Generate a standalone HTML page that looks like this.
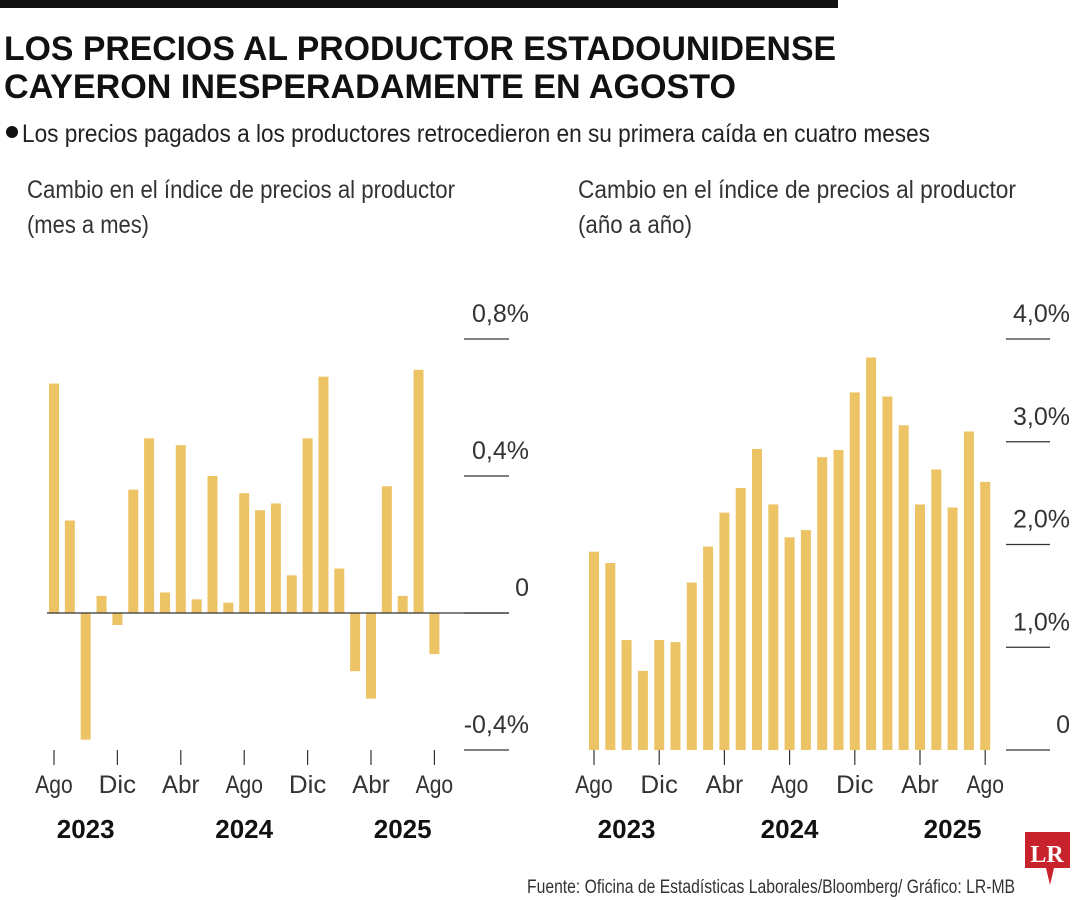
<!DOCTYPE html>
<html><head><meta charset="utf-8"><style>
body{margin:0;background:#fff}
svg{display:block;font-family:"Liberation Sans",sans-serif}
</style></head><body>
<svg width="1080" height="900" viewBox="0 0 1080 900">
<rect x="0" y="0" width="838" height="8" fill="#111"/>
<text x="4" y="60" font-size="34" font-weight="bold" fill="#111" textLength="832" lengthAdjust="spacingAndGlyphs">LOS PRECIOS AL PRODUCTOR ESTADOUNIDENSE</text>
<text x="4" y="98" font-size="34" font-weight="bold" fill="#111" textLength="732" lengthAdjust="spacingAndGlyphs">CAYERON INESPERADAMENTE EN AGOSTO</text>
<circle cx="12" cy="132" r="6" fill="#111"/>
<text x="22" y="142" font-size="25" fill="#222" textLength="908" lengthAdjust="spacingAndGlyphs">Los precios pagados a los productores retrocedieron en su primera caída en cuatro meses</text>
<text x="27" y="198" font-size="25" fill="#333" textLength="428" lengthAdjust="spacingAndGlyphs">Cambio en el índice de precios al productor</text>
<text x="27" y="233" font-size="25" fill="#333" textLength="122" lengthAdjust="spacingAndGlyphs">(mes a mes)</text>
<text x="578" y="198" font-size="25" fill="#333" textLength="438" lengthAdjust="spacingAndGlyphs">Cambio en el índice de precios al productor</text>
<text x="578" y="233" font-size="25" fill="#333" textLength="114" lengthAdjust="spacingAndGlyphs">(año a año)</text>
<g id="left"></g><g id="right"></g>
<text x="1015" y="893" font-size="19" fill="#333" text-anchor="end" textLength="488" lengthAdjust="spacingAndGlyphs">Fuente: Oficina de Estadísticas Laborales/Bloomberg/ Gráfico: LR-MB</text>
<g>
<path d="M1025 832 H1070 V868 H1054 L1050 885 L1046 868 H1025 Z" fill="#c8232c"/>
<text x="1047" y="862" font-size="24" font-weight="bold" fill="#fff" text-anchor="middle" font-family="Liberation Serif,serif">LR</text>
</g>
</svg>
<script>
const momValues=[0.67,0.27,-0.37,0.05,-0.035,0.36,0.51,0.06,0.49,0.04,0.40,0.03,0.35,0.30,0.32,0.11,0.51,0.69,0.13,-0.17,-0.25,0.37,0.05,0.71,-0.12];
const yoyValues=[1.93,1.82,1.07,0.77,1.07,1.05,1.63,1.98,2.31,2.55,2.93,2.39,2.07,2.14,2.85,2.92,3.48,3.82,3.44,3.16,2.39,2.73,2.36,3.10,2.61];
const monthLabels=["Ago","Dic","Abr","Ago","Dic","Abr","Ago"];
const yearLabels=["2023","2024","2025"];
const momTicks=[0.8,0.4,0,-0.4];
const momTickLabels=["0,8%","0,4%","0","-0,4%"];
const yoyTicks=[4,3,2,1,0];
const yoyTickLabels=["4,0%","3,0%","2,0%","1,0%","0"];
const NS="http://www.w3.org/2000/svg";
function mk(p,tag,a){const e=document.createElementNS(NS,tag);for(const k in a)e.setAttribute(k,a[k]);p.appendChild(e);return e;}
function draw(g,vals,cfg){
  const y=v=>cfg.y0-(v-cfg.base)*cfg.scale;
  const x=i=>cfg.x0+i*cfg.step;
  cfg.ticks.forEach((t,i)=>{
    const ln=mk(g,'line',{x1:cfg.tx1,x2:cfg.tx2,y1:y(t),y2:y(t),stroke:'#333','stroke-width':1.2});
    
    
    const tx=mk(g,'text',{x:cfg.tx2+20,y:y(t)-17,'font-size':25,fill:'#333','text-anchor':'end'});
    tx.textContent=cfg.labels[i];
    
    
  });
  vals.forEach((v,i)=>{
    const top=Math.min(y(v),y(cfg.base)),h=Math.abs(y(v)-y(cfg.base));
    const r=mk(g,'rect',{x:x(i)-cfg.bw/2,y:top,width:cfg.bw,height:h,fill:'#ecc465'});
    
    
  });
  if(cfg.zeroLine){const z=mk(g,'line',{x1:cfg.x0-7,x2:cfg.tx2,y1:y(0),y2:y(0),stroke:'#333','stroke-width':1.2});
    
    }
  monthLabels.forEach((m,k)=>{
    const xi=x(k*4);
    const tk=mk(g,'line',{x1:xi,x2:xi,y1:750,y2:765,stroke:'#333','stroke-width':1.2});
    
    
    const t=mk(g,'text',{x:xi,y:793,'font-size':25,fill:'#333','text-anchor':'middle',textLength:m.length*12.5,lengthAdjust:'spacingAndGlyphs'});
    t.textContent=m;
    
    
  });
  yearLabels.forEach((yy,k)=>{
    const xi=[x(2),x(12),x(22)][k];
    const t=mk(g,'text',{x:xi,y:838,'font-size':26,'font-weight':'bold',fill:'#111','text-anchor':'middle'});
    t.textContent=yy;
    
    
  });
}
draw(document.getElementById('left'),momValues,{x0:54,step:15.85,bw:10,y0:613,base:0,scale:342.5,ticks:momTicks,labels:momTickLabels,tx1:464,tx2:509,zeroLine:true});
draw(document.getElementById('right'),yoyValues,{x0:594,step:16.3,bw:10,y0:750,base:0,scale:102.75,ticks:yoyTicks,labels:yoyTickLabels,tx1:1006,tx2:1050,zeroLine:false});
</script>
</body></html>
